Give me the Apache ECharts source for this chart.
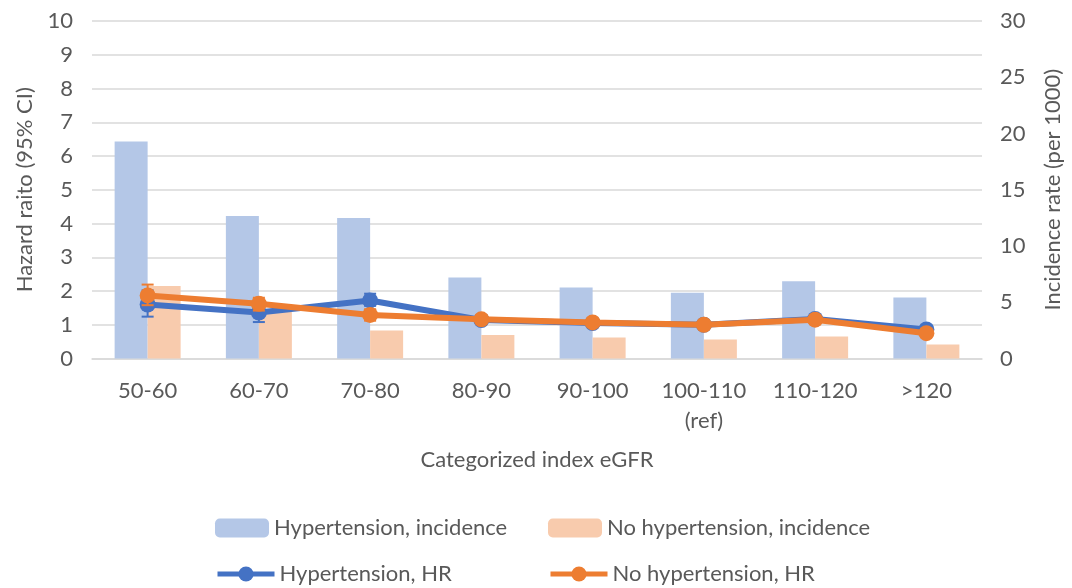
<!DOCTYPE html>
<html>
<head>
<meta charset="utf-8">
<script src="https://cdn.jsdelivr.net/npm/echarts@6/dist/echarts.min.js"></script>
<style>
  html, body { margin: 0; padding: 0; background: #fff; }
  #chart { width: 1072px; height: 588px; }
</style>
</head>
<body>
<div id="chart"></div>
<script>
// eGFR categories
const categories = ['50-60', '60-70', '70-80', '80-90', '90-100', '100-110\n(ref)', '110-120', '>120'];

// Incidence rate per 1000 (right axis)
const htnIncidence   = [19.3, 12.67, 12.5, 7.19, 6.32, 5.85, 6.86, 5.43];
const noHtnIncidence = [6.44, 4.4, 2.49, 2.1, 1.87, 1.69, 1.96, 1.25];

// Hazard ratios with 95% CI (left axis)
const htnHR     = [1.60, 1.36, 1.72, 1.14, 1.05, 1.0, 1.17, 0.86];
const htnHRLow  = [1.24, 1.08, 1.56, 1.03, 0.95, 1.0, 1.06, 0.74];
const htnHRHigh = [2.02, 1.70, 1.92, 1.26, 1.15, 1.0, 1.28, 0.98];

const noHtnHR     = [1.87, 1.62, 1.29, 1.16, 1.07, 1.0, 1.15, 0.75];
const noHtnHRLow  = [1.58, 1.42, 1.12, 1.04, 0.97, 1.0, 1.04, 0.64];
const noHtnHRHigh = [2.19, 1.80, 1.46, 1.29, 1.18, 1.0, 1.27, 0.87];

// Axis ticks
const hrTicks = { min: 0, max: 10, interval: 1 };
const incTicks = { min: 0, max: 30, interval: 5 };

const FONT = 'Lato';
const TEXT = '#595959';
const BLUE = '#4472C4', ORANGE = '#ED7D31';
const BLUE_BAR = '#B4C7E7', ORANGE_BAR = '#F8CBAD';

function errorBars(low, high) {
  return categories.map((c, i) => [i, low[i], high[i]]);
}

function errorBarRenderer(color) {
  return function (params, api) {
    const x = api.value(0);
    const lo = api.coord([x, api.value(1)]);
    const hi = api.coord([x, api.value(2)]);
    const half = 6;
    const style = { stroke: color, lineWidth: 2 };
    return {
      type: 'group',
      children: [
        { type: 'line', shape: { x1: lo[0], y1: lo[1], x2: hi[0], y2: hi[1] }, style },
        { type: 'line', shape: { x1: lo[0] - half, y1: lo[1], x2: lo[0] + half, y2: lo[1] }, style },
        { type: 'line', shape: { x1: hi[0] - half, y1: hi[1], x2: hi[0] + half, y2: hi[1] }, style }
      ]
    };
  };
}

const legendText = { fontFamily: FONT, fontSize: 22, color: TEXT };
const barLegend = { itemWidth: 54, itemHeight: 19, itemGap: 5, textStyle: legendText };
const lineLegend = { itemWidth: 57, itemHeight: 19, itemGap: 5, textStyle: legendText, lineStyle: { width: 5 } };

const chart = echarts.init(document.getElementById('chart'), null, { renderer: 'canvas' });
chart.setOption({
  animation: false,
  textStyle: { fontFamily: FONT, color: TEXT },
  grid: { left: 92, right: 90, top: 21, bottom: 229.5, containLabel: false },
  legend: [
    Object.assign({ data: ['Hypertension, incidence'], left: 210, top: 512 }, barLegend),
    Object.assign({ data: ['No hypertension, incidence'], left: 543, top: 512 }, barLegend),
    Object.assign({ data: ['Hypertension, HR'], left: 210, top: 558 }, lineLegend),
    Object.assign({ data: ['No hypertension, HR'], left: 543, top: 558 }, lineLegend)
  ],
  xAxis: {
    type: 'category',
    data: categories,
    name: 'Categorized index eGFR',
    nameLocation: 'middle',
    nameGap: 90,
    nameTextStyle: { fontFamily: FONT, fontSize: 22, color: TEXT },
    axisLine: { lineStyle: { color: '#D9D9D9', width: 1.5 } },
    axisTick: { show: false },
    axisLabel: { fontFamily: FONT, fontSize: 22, color: TEXT, margin: 17, lineHeight: 30, interval: 0 }
  },
  yAxis: [
    {
      type: 'value',
      min: hrTicks.min, max: hrTicks.max, interval: hrTicks.interval,
      name: 'Hazard raito (95% CI)',
      nameLocation: 'middle',
      nameGap: 56,
      nameTextStyle: { fontFamily: FONT, fontSize: 22, color: TEXT },
      axisLine: { show: false },
      axisTick: { show: false },
      axisLabel: { fontFamily: FONT, fontSize: 22, color: TEXT, margin: 19 },
      splitLine: { lineStyle: { color: '#D9D9D9', width: 1.5 } }
    },
    {
      type: 'value',
      position: 'right',
      min: incTicks.min, max: incTicks.max, interval: incTicks.interval,
      name: 'Incidence rate (per 1000)',
      nameLocation: 'middle',
      nameGap: 60,
      nameRotate: 90,
      nameTextStyle: { fontFamily: FONT, fontSize: 22, color: TEXT },
      axisLine: { show: false },
      axisTick: { show: false },
      axisLabel: { fontFamily: FONT, fontSize: 22, color: TEXT, margin: 18 },
      splitLine: { show: false }
    }
  ],
  series: [
    {
      name: 'Hypertension, incidence', type: 'bar', yAxisIndex: 1,
      data: htnIncidence, barWidth: 33, barGap: '0%',
      itemStyle: { color: BLUE_BAR }, z: 1
    },
    {
      name: 'No hypertension, incidence', type: 'bar', yAxisIndex: 1,
      data: noHtnIncidence, barWidth: 33, barGap: '0%',
      itemStyle: { color: ORANGE_BAR }, z: 1
    },
    {
      name: 'Hypertension, HR', type: 'line', yAxisIndex: 0,
      data: htnHR, symbol: 'circle', symbolSize: 16,
      lineStyle: { color: BLUE, width: 6 }, itemStyle: { color: BLUE },
      z: 4
    },
    {
      type: 'custom', yAxisIndex: 0, silent: true,
      data: errorBars(htnHRLow, htnHRHigh),
      renderItem: errorBarRenderer(BLUE), z: 3
    },
    {
      name: 'No hypertension, HR', type: 'line', yAxisIndex: 0,
      data: noHtnHR, symbol: 'circle', symbolSize: 16,
      lineStyle: { color: ORANGE, width: 6 }, itemStyle: { color: ORANGE },
      z: 6
    },
    {
      type: 'custom', yAxisIndex: 0, silent: true,
      data: errorBars(noHtnHRLow, noHtnHRHigh),
      renderItem: errorBarRenderer(ORANGE), z: 5
    }
  ]
});
</script>
</body>
</html>
